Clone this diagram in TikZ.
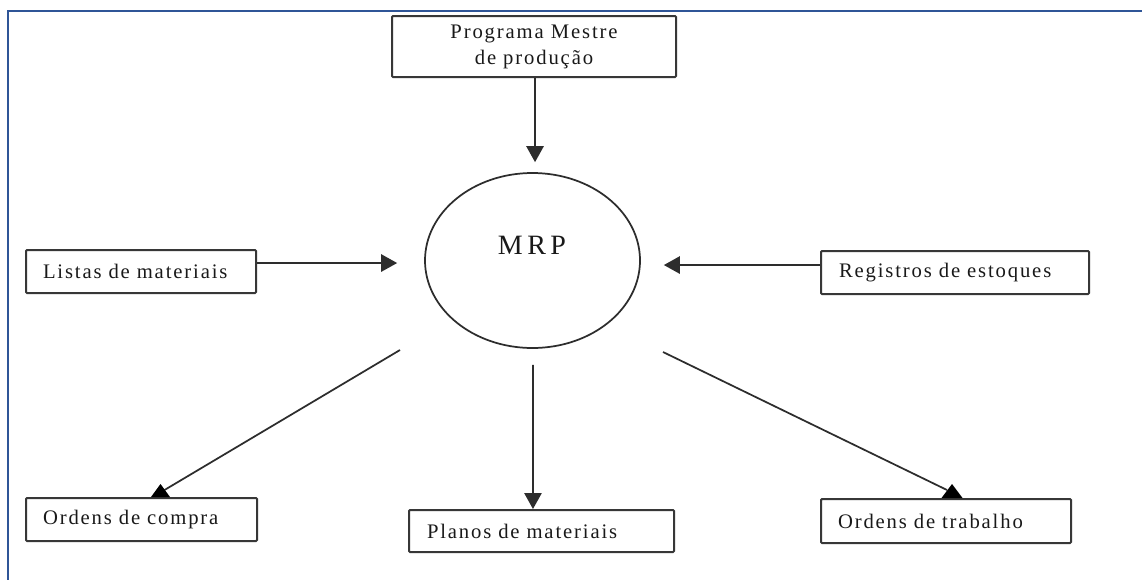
\documentclass[tikz,border=0pt]{standalone}
\usepackage{fontspec}
\setmainfont{Liberation Serif}[LetterSpace=9]
\newfontfamily\mrpfont{Liberation Serif}[LetterSpace=16]
\usetikzlibrary{shapes.geometric,arrows.meta,calc}

\definecolor{frameblue}{RGB}{47,85,151}
\definecolor{boxgray}{RGB}{55,55,55}
\definecolor{linegray}{RGB}{45,45,45}
\definecolor{txt}{RGB}{25,25,25}

\begin{document}
\begin{tikzpicture}[x=0.75pt,y=-0.75pt,
  box/.style={draw=boxgray, line width=1.5pt, rounded corners=0.8pt,
    inner ysep=0pt, align=left, text=txt,
    font=\fontsize{15.5}{19.5}\selectfont},
  conn/.style={draw=linegray, line width=1.3pt},
  arr/.style={conn, -{Triangle[length=12pt,width=13pt]}},
  uptip/.style={fill=black}
]
\useasboundingbox (0,0) rectangle (1142,579);
\fill[white] (0,0) rectangle (1142,579);

% outer frame
\draw[frameblue, line width=1.7pt] (8,600) -- (8,11) -- (1160,11);

% central process
\node[ellipse, draw=linegray, line width=1.3pt, minimum width=161.25pt,
  minimum height=131.25pt, inner sep=0pt] (mrp) at (532.5,260.5) {};
\node[text=txt, font=\mrpfont\fontsize{21}{24}\selectfont] (mrptxt) at (532,245) {MRP};

% inputs and outputs
\node[box, align=center, minimum width=213pt, minimum height=45.75pt,
  inner xsep=0pt] (pmp) at (534,46.5) {Programa Mestre\\de produção};
\node[box, inner xsep=12.75pt, text width=147pt, minimum height=32.25pt]
  (listas) at (141,271.5) {\mbox{Listas de materiais}};
\node[box, inner xsep=13.5pt, text width=174pt, minimum height=32.25pt]
  (reg) at (955,272.5) {\mbox{Registros de estoques}};
\node[box, inner xsep=12.75pt, text width=147.75pt, minimum height=32.25pt]
  (compra) at (141.5,519.5) {\mbox{Ordens de compra}};
\node[box, inner xsep=13.5pt, text width=171.75pt, minimum height=31.5pt]
  (planos) at (541.5,531) {\mbox{Planos de materiais}};
\node[box, inner xsep=12.75pt, text width=162pt, minimum height=33pt]
  (trabalho) at (946,521) {\mbox{Ordens de trabalho}};

% straight connectors
\draw[arr, shorten >=7.5pt] ([xshift=0.75pt]pmp.south) -- ([xshift=1.9pt]mrp.north);
\draw[arr, shorten >=20.25pt] ([yshift=6.4pt]listas.east) -- ([yshift=-1.9pt]mrp.west);
\draw[arr, shorten >=17.25pt] ([yshift=5.6pt]reg.west) -- ([yshift=-3.4pt]mrp.east);
\draw[arr, shorten <=12pt] ([xshift=0.4pt]mrp.south) -- ([xshift=-6.4pt]planos.north);

% slanted connectors with upright tips
\coordinate (dl) at (400,350);
\coordinate (dr) at (663,352);
\coordinate (tipc) at ($(compra.north)+(19,-13)$);
\coordinate (tipt) at ($(trabalho.north)+(6,-14)$);
\draw[conn] (dl) -- ($(tipc)+(4,6)$);
\draw[conn] (dr) -- ($(tipt)+(-5,6)$);
\fill[uptip] (tipc) -- ++(-9.5,13) -- ++(19,0) -- cycle;
\fill[uptip] (tipt) -- ++(-10.5,14) -- ++(21,0) -- cycle;
\end{tikzpicture}
\end{document}
